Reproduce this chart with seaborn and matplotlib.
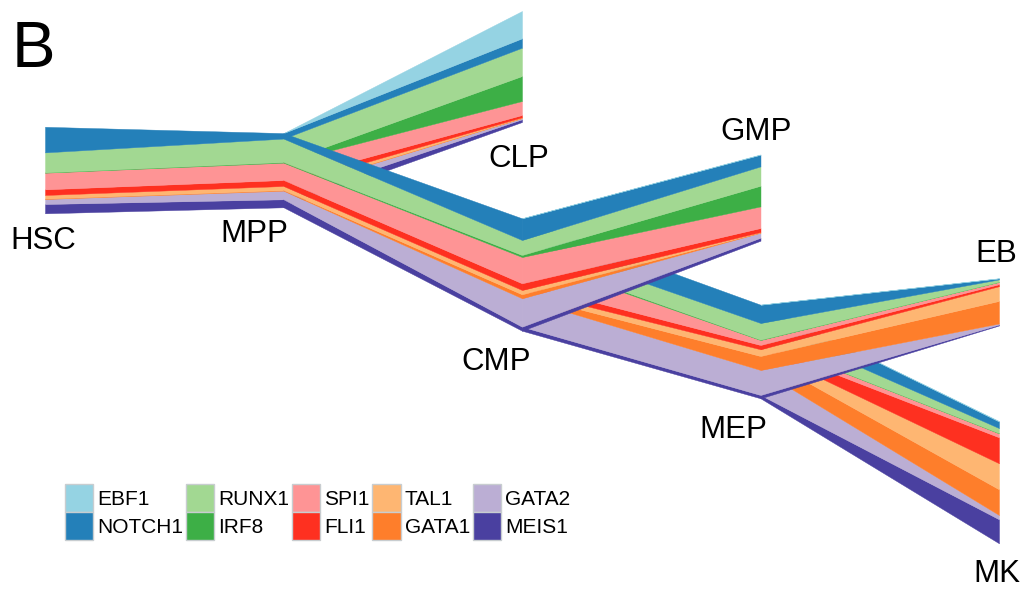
import numpy as np
import pandas as pd
import seaborn as sns
import matplotlib.pyplot as plt
from matplotlib.patches import Patch

# cell types: tree depth and the baseline (bottom of the stack) of each node
nodes = ["HSC", "MPP", "CLP", "CMP", "GMP", "MEP", "EB", "MK"]
depth = [0, 1, 2, 2, 3, 3, 4, 4]
baseline = [378.7, 384.7, 470.0, 261.3, 351.3, 193.7, 266.5, 48.7]

# lineage edges, in drawing order (later ones sit on top)
edges = [("HSC", "MPP"), ("MPP", "CLP"), ("MPP", "CMP"), ("CMP", "MEP"),
         ("CMP", "GMP"), ("MEP", "MK"), ("MEP", "EB")]

# expression per gene and node (stacked bottom-up), node order as above
genes = ["MEIS1", "GATA2", "GATA1", "TAL1", "FLI1", "SPI1", "IRF8", "RUNX1", "NOTCH1", "EBF1"]
MEIS1 = [9.3, 8.0, 2.7, 4.0, 3.0, 3.3, 1.0, 24.0]
GATA2 = [5.0, 8.6, 1.2, 28.4, 5.0, 25.0, 1.0, 4.3]
GATA1 = [0.4, 0.7, 0.3, 4.0, 0.3, 14.0, 22.6, 25.7]
TAL1 = [3.6, 4.0, 0.5, 4.3, 0.4, 6.7, 14.7, 26.0]
FLI1 = [5.7, 6.0, 2.3, 6.7, 4.0, 4.3, 2.0, 26.0]
SPI1 = [16.6, 17.3, 14.0, 26.3, 21.6, 5.0, 2.3, 4.0]
IRF8 = [0.3, 0.7, 25.0, 2.0, 20.7, 0.3, 0.1, 0.2]
RUNX1 = [20.0, 23.4, 28.3, 15.0, 19.3, 16.7, 2.4, 5.0]
NOTCH1 = [25.6, 5.5, 9.4, 21.7, 11.7, 18.3, 1.0, 6.6]
EBF1 = [0.0, 0.0, 27.3, 0.0, 0.3, 0.0, 0.2, 0.5]

expr = pd.DataFrame([MEIS1, GATA2, GATA1, TAL1, FLI1, SPI1, IRF8, RUNX1, NOTCH1, EBF1],
                    index=genes, columns=nodes)

gene_colors = dict(zip(genes, sns.color_palette(
    ["#4a40a0", "#bbaed4", "#fe7e2b", "#feb672", "#fe3020",
     "#fe9495", "#3daf46", "#a2d892", "#2480b9", "#95d3e3"])))

# label offsets (pixels) from node bottom, or from stack top for GMP / EB
label_pos = {"HSC": (-2, -28, "bottom"), "MPP": (-29, -27, "bottom"),
             "CLP": (-3, -37, "bottom"), "CMP": (-26, -31, "bottom"),
             "GMP": (-4, 22, "top"), "MEP": (-27, -32, "bottom"),
             "EB": (-3, 24, "top"), "MK": (-2, -31, "bottom")}

sns.set_theme(style="white")
plt.rcParams["font.family"] = ["Liberation Sans", "DejaVu Sans"]
plt.rcParams["text.color"] = "black"

fig = plt.figure(figsize=(10.21, 5.92), dpi=100)
ax = fig.add_axes([0, 0, 1, 1])

node_x = dict(zip(nodes, depth))
node_y = dict(zip(nodes, baseline))
cum = expr.cumsum()

for parent, child in edges:
    x = [node_x[parent], node_x[child]]
    for g in genes:
        if max(expr.loc[g, parent], expr.loc[g, child]) == 0:
            continue
        hi = [node_y[parent] + cum.loc[g, parent], node_y[child] + cum.loc[g, child]]
        lo = [hi[0] - expr.loc[g, parent], hi[1] - expr.loc[g, child]]
        ax.fill_between(x, lo, hi, color=gene_colors[g], linewidth=0.3,
                        edgecolor=gene_colors[g])

for n in nodes:
    dx, dy, where = label_pos[n]
    y = node_y[n] + (cum[n].iloc[-1] if where == "top" else 0)
    ax.annotate(n, (node_x[n], y), xytext=(dx, dy), textcoords="offset pixels",
                ha="center", va="center", fontsize=22.5, color="black")

ax.set_xlim(-45 / 238.5, (1021 - 45) / 238.5)
ax.set_ylim(0, 592)
ax.axis("off")

fig.text(33 / 1021, 1 - 50 / 592, "B", fontsize=47, ha="center", va="center")

legend_order = ["EBF1", "NOTCH1", "RUNX1", "IRF8", "SPI1", "FLI1", "TAL1", "GATA1", "GATA2", "MEIS1"]
handles = [Patch(facecolor=gene_colors[g], edgecolor="#c8cdd0", linewidth=1, label=g)
           for g in legend_order]
fig.legend(handles=handles, ncol=5, loc="upper left",
           bbox_to_anchor=(65 / 1021, 1 - 484 / 592), frameon=False,
           fontsize=15, handlelength=1.35, handleheight=1.69, handletextpad=0.2,
           columnspacing=0.13, labelspacing=0, borderpad=0, borderaxespad=0,
           labelcolor="black")

fig.savefig("out.png", dpi=100)
